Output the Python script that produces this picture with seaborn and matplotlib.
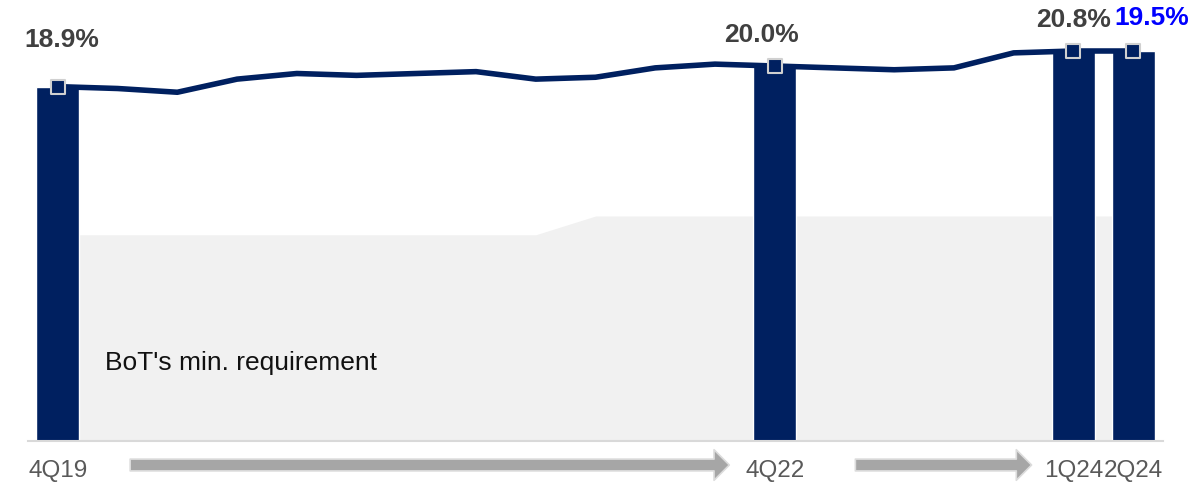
import numpy as np
import pandas as pd
import matplotlib
matplotlib.use("Agg")
import matplotlib.pyplot as plt
import seaborn as sns

# ---- data -------------------------------------------------------------
quarters = ["4Q19", "1Q20", "2Q20", "3Q20", "4Q20", "1Q21", "2Q21", "3Q21",
            "4Q21", "1Q22", "2Q22", "3Q22", "4Q22", "1Q23", "2Q23", "3Q23",
            "4Q23", "1Q24", "2Q24"]
car_ratio = [18.9, 18.8, 18.6, 19.3, 19.6, 19.5, 19.6, 19.7, 19.3, 19.4,
             19.9, 20.1, 20.0, 19.9, 19.8, 19.9, 20.7, 20.8, 20.8]
bot_min_requirement = [11.0, 11.0, 11.0, 11.0, 11.0, 11.0, 11.0, 11.0, 11.0,
                       12.0, 12.0, 12.0, 12.0, 12.0, 12.0, 12.0, 12.0, 12.0, 12.0]
bar_quarters = ["4Q19", "4Q22", "1Q24", "2Q24"]
label_values = [18.9, 20.0, 20.8, 19.5]
label_colors = ["#404040", "#404040", "#404040", "#0000FF"]

# ---- style ------------------------------------------------------------
NAVY = "#002060"
sns.set_theme(style="white")
plt.rcParams["font.family"] = ["Liberation Sans", "DejaVu Sans"]

W, H = 1201, 483
fig = plt.figure(figsize=(W / 100, H / 100), dpi=100)
ax_left, ax_right, ax_bottom_px = 28, 1163, 441
px_per_pct = 18.75
ax = fig.add_axes([ax_left / W, (H - ax_bottom_px) / H,
                   (ax_right - ax_left) / W, ax_bottom_px / H])

idx = np.arange(len(quarters))
line_df = pd.DataFrame({"quarter": quarters, "pos": idx, "ratio": car_ratio})
bar_df = line_df[line_df["quarter"].isin(bar_quarters)].reset_index(drop=True)

# regulatory minimum as a shaded band
ax.fill_between(idx, 0, bot_min_requirement, color="#f1f1f1", lw=0, zorder=0)
ax.text(0.79, 3.79, "BoT's min. requirement", fontsize=19, color="#111111",
        ha="left", va="baseline", zorder=1)

# year-end / latest bars
sns.barplot(data=bar_df, x="quarter", y="ratio", order=quarters, color=NAVY,
            saturation=1, width=0.72, errorbar=None, ax=ax, zorder=2)

# quarterly ratio line
sns.lineplot(data=line_df, x="pos", y="ratio", color=NAVY, linewidth=4.0,
             ax=ax, zorder=3, solid_joinstyle="round", solid_capstyle="butt")

# square markers on the bar quarters
sns.scatterplot(data=bar_df, x="pos", y="ratio", marker="s", s=88,
                color=NAVY, edgecolor="#d0d0d0", linewidth=1.5, ax=ax,
                zorder=4)

# value labels above the bars
label_dx_px = [4, -13, 0, 19]
label_dy_px = [40, 24, 24, 26]
for pos, top, val, col, dx, dy in zip(bar_df["pos"], bar_df["ratio"],
                                      label_values, label_colors,
                                      label_dx_px, label_dy_px):
    ax.annotate(f"{val:.1f}%", xy=(pos, top), xytext=(dx * 0.72, dy * 0.72),
                textcoords="offset points", ha="center", va="baseline",
                fontsize=19, fontweight="bold", color=col,
                annotation_clip=False, zorder=5)

# axes
ax.set_xlim(-0.5, len(quarters) - 0.5)
ax.set_ylim(0, ax_bottom_px / px_per_pct)
ax.set_xticks(bar_df["pos"].tolist())
ax.set_xticklabels(bar_quarters)
ax.set_yticks([])
ax.set_xlabel("")
ax.set_ylabel("")
ax.tick_params(axis="x", length=0, pad=14, labelsize=17.5, labelcolor="#595959")
for side in ["top", "right", "left"]:
    ax.spines[side].set_visible(False)
ax.spines["bottom"].set_color("#d9d9d9")
ax.spines["bottom"].set_linewidth(1.5)
ax.patch.set_alpha(0)

# progression arrows under the axis
arrow_y = H - 465
for x0, x1 in [(1.21, 11.24), (13.35, 16.30)]:
    ax.annotate("", xy=(x1, arrow_y), xytext=(x0, arrow_y),
                xycoords=("data", "figure pixels"),
                arrowprops=dict(arrowstyle="simple,head_length=1.1,head_width=2.2,tail_width=0.85",
                                mutation_scale=10, fc="#a6a6a6", ec="#dcdcdc",
                                lw=1.2, shrinkA=0, shrinkB=0),
                annotation_clip=False)

fig.savefig("out.png", dpi=100)
